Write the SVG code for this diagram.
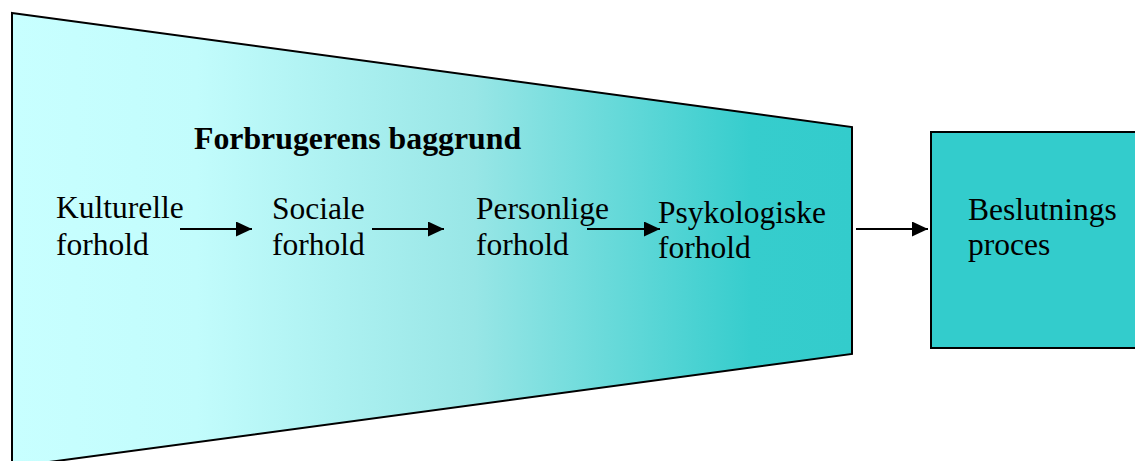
<svg xmlns="http://www.w3.org/2000/svg" width="1135" height="461" viewBox="0 0 1135 461">
  <style>
    .lbl { font-family: "Liberation Serif", "Times New Roman", serif; font-size: 31.5px; fill: #000; }
    .title { font-weight: bold; font-size: 31.8px; }
    .edge { stroke: #000; stroke-width: 2; fill: none; marker-end: url(#arrow); }
  </style>
  <defs>
    <linearGradient id="bg" gradientUnits="userSpaceOnUse" x1="12" y1="0" x2="852" y2="0">
      <stop offset="0" stop-color="#C8FFFF"/>
      <stop offset="0.22" stop-color="#C2FCFC"/>
      <stop offset="0.55" stop-color="#98E6E6"/>
      <stop offset="0.88" stop-color="#36CDCD"/>
      <stop offset="1" stop-color="#33CCCC"/>
    </linearGradient>
    <marker id="arrow" markerUnits="userSpaceOnUse" markerWidth="17" markerHeight="16" refX="16" refY="7.5" orient="auto">
      <path d="M0,0 L16,7.5 L0,15 Z" fill="#000"/>
    </marker>
  </defs>

  <!-- consumer background funnel -->
  <g id="baggrund">
    <polygon points="12,13 852,127 852,354 12,467" fill="url(#bg)" stroke="#000" stroke-width="2"/>
    <text class="lbl title" x="194" y="149">Forbrugerens baggrund</text>
  </g>

  <g id="kulturelle">
    <text class="lbl" x="56" y="218">Kulturelle</text>
    <text class="lbl" x="56" y="255">forhold</text>
  </g>

  <g id="sociale">
    <text class="lbl" x="272" y="219">Sociale</text>
    <text class="lbl" x="272" y="255">forhold</text>
  </g>

  <g id="personlige">
    <text class="lbl" x="476" y="219">Personlige</text>
    <text class="lbl" x="476" y="255">forhold</text>
  </g>

  <g id="psykologiske">
    <text class="lbl" x="658" y="223">Psykologiske</text>
    <text class="lbl" x="658" y="258">forhold</text>
  </g>

  <!-- decision process box -->
  <g id="beslutning">
    <rect x="931" y="132" width="214" height="216" fill="#33CCCC" stroke="#000" stroke-width="2"/>
    <text class="lbl" x="968" y="220">Beslutnings</text>
    <text class="lbl" x="968" y="255">proces</text>
  </g>

  <g id="connectors">
    <line class="edge" x1="180" y1="229" x2="252" y2="229"/>
    <line class="edge" x1="372" y1="229" x2="444" y2="229"/>
    <line class="edge" x1="587" y1="229" x2="660" y2="229"/>
    <line class="edge" x1="856" y1="229" x2="928" y2="229"/>
  </g>
</svg>
